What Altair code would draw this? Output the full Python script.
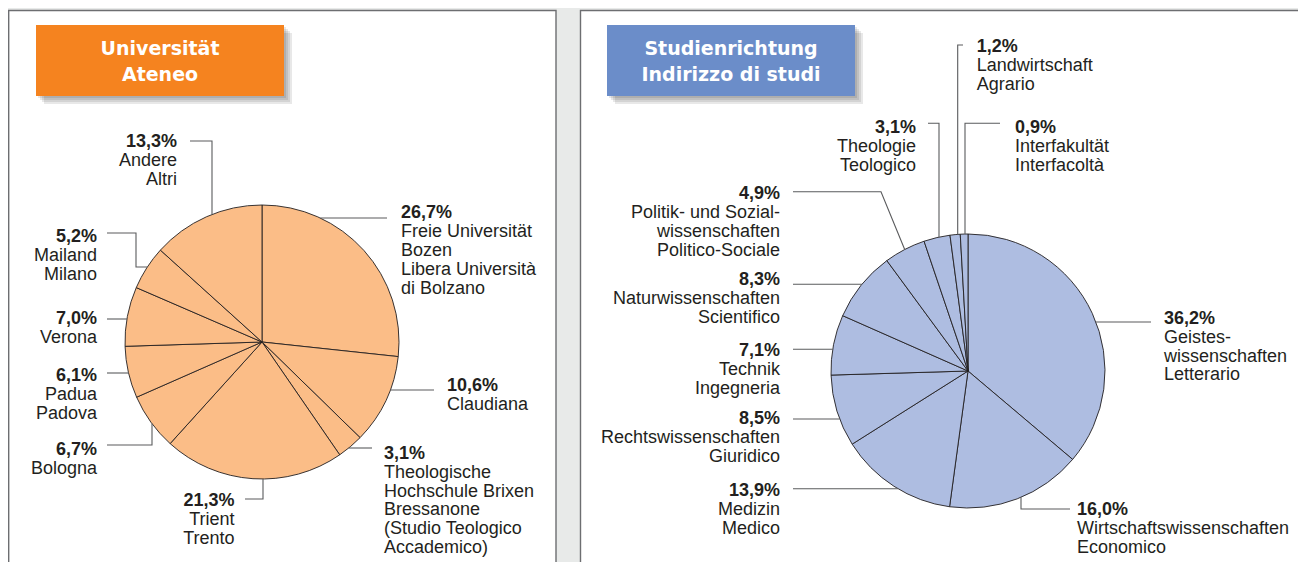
import math
import altair as alt
import pandas as pd

# ------------------------------------------------------------------ data
uni_values = [26.7, 10.6, 3.1, 21.3, 6.7, 6.1, 7.0, 5.2, 13.3]
uni_names = [
    ["Freie Universität", "Bozen", "Libera Università", "di Bolzano"],
    ["Claudiana"],
    ["Theologische", "Hochschule Brixen", "Bressanone", "(Studio Teologico", "Accademico)"],
    ["Trient", "Trento"],
    ["Bologna"],
    ["Padua", "Padova"],
    ["Verona"],
    ["Mailand", "Milano"],
    ["Andere", "Altri"],
]
study_values = [36.2, 16.0, 13.9, 8.5, 7.1, 8.3, 4.9, 3.1, 1.2, 0.9]
study_names = [
    ["Geistes-", "wissenschaften", "Letterario"],
    ["Wirtschaftswissenschaften", "Economico"],
    ["Medizin", "Medico"],
    ["Rechtswissenschaften", "Giuridico"],
    ["Technik", "Ingegneria"],
    ["Naturwissenschaften", "Scientifico"],
    ["Politik- und Sozial-", "wissenschaften", "Politico-Sociale"],
    ["Theologie", "Teologico"],
    ["Landwirtschaft", "Agrario"],
    ["Interfakultät", "Interfacoltà"],
]
panel_titles = [["Universität", "Ateneo"], ["Studienrichtung", "Indirizzo di studi"]]

# ------------------------------------------------------------------ layout / style
W, H = 1290, 554          # drawing area (page coords 8..1298 x 8..562)
OX, OY = 8, 8
R = 137
BG = "#E8EAE9"
INK = "#231F20"
LEADER = "#5A5B5D"
FONT = "Liberation Sans"
TFONT = "DejaVu Sans"
FS = 18
PITCH = 18.8
BASE = 6.4                # cap-centre -> baseline offset

panels = [dict(x=8.7, x2=556, y=10.5, y2=640), dict(x=580.5, x2=1306, y=10.5, y2=640)]
title_boxes = [dict(x=36, x2=284, y=25, y2=96, fill="#F5831F"),
               dict(x=607, x2=855, y=25, y2=96, fill="#6B8DC9")]
title_line_y = [48.5, 74.5]

# label layout per slice: text x, align, centre y of the % line, leader spec
uni_layout = [
    (401, "left", 212, ("h", 387, 218)),
    (447, "left", 385, ("h", 434, 390)),
    (384, "left", 452.5, ("h", 372, 448)),
    (234.5, "right", 500, ("hv", 245, 499, 263)),
    (97, "right", 448.7, ("hv", 107, 445, 152)),
    (97, "right", 375, ("h", 107, 373)),
    (97, "right", 318, ("h", 107, 319)),
    (97, "right", 235.5, ("hvh", 107, 233, 136, 267)),
    (177, "right", 141, ("hv", 190, 141, 212)),
]
study_layout = [
    (1164, "left", 317.5, ("h", 1151, 322)),
    (1077, "left", 509, ("hv", 1070, 509, 1021)),
    (780, "right", 489.7, ("h", 793, 488.7)),
    (780, "right", 418, ("h", 793, 419)),
    (780, "right", 349.7, ("h", 793, 349.3)),
    (780, "right", 279, ("h", 793, 284.3)),
    (780, "right", 193, ("diag", 793, 191.7, 881)),
    (916, "right", 126.7, ("hv", 928, 123.3, 939)),
    (976.7, "left", 46, ("hv", 963, 45, 957.7)),
    (1015, "left", 126.7, ("hv", 1000, 123.3, 965)),
]

pies = [
    dict(values=uni_values, names=uni_names, layout=uni_layout, cx=262, cy=342, fill="#FBBD87"),
    dict(values=study_values, names=study_names, layout=study_layout, cx=968, cy=371, fill="#AEBDE1"),
]

xs = alt.Scale(domain=[OX, OX + W], nice=False, zero=False)
ys = alt.Scale(domain=[OY, OY + H], nice=False, zero=False, reverse=True)


def X(f):
    return alt.X(f, scale=xs, axis=None)


def Y(f):
    return alt.Y(f, scale=ys, axis=None)


def pct(v):
    return f"{v:.1f}".replace(".", ",") + "%"


def leader_points(p, idx, spec):
    cx, cy = p["cx"], p["cy"]
    kind = spec[0]

    def cxs(y, x0):
        d = math.sqrt(max(R * R - (y - cy) ** 2, 0))
        return cx - d if x0 < cx else cx + d

    def cys(x, y0):
        d = math.sqrt(max(R * R - (x - cx) ** 2, 0))
        return cy - d if y0 < cy else cy + d

    if kind == "h":
        _, x0, y0 = spec
        return [(x0, y0), (cxs(y0, x0), y0)]
    if kind == "hv":
        _, x0, y0, xe = spec
        return [(x0, y0), (xe, y0), (xe, cys(xe, y0))]
    if kind == "hvh":
        _, x0, y0, xe, y2 = spec
        return [(x0, y0), (xe, y0), (xe, y2), (cxs(y2, x0), y2)]
    # diag: to the slice's mid angle on the rim
    _, x0, y0, xe = spec
    vals = p["values"]
    tot = sum(vals)
    mid = (sum(vals[:idx]) + vals[idx] / 2) / tot * 2 * math.pi
    return [(x0, y0), (xe, y0), (cx + R * math.sin(mid), cy - R * math.cos(mid))]


layers = []

# panels
layers.append(
    alt.Chart(pd.DataFrame(panels)).mark_rect(fill="white", stroke="#6D6E71", strokeWidth=1.4)
    .encode(x=X("x:Q"), x2="x2:Q", y=Y("y:Q"), y2="y2:Q")
)
# soft shadows of title boxes
shadow_rows = []
for b in title_boxes:
    for d in (2, 4, 6, 8):
        shadow_rows.append(dict(x=b["x"] + d, x2=b["x2"] + d, y=b["y"] + d, y2=b["y2"] + d))
layers.append(
    alt.Chart(pd.DataFrame(shadow_rows)).mark_rect(fill="#000000", opacity=0.09)
    .encode(x=X("x:Q"), x2="x2:Q", y=Y("y:Q"), y2="y2:Q")
)
layers.append(
    alt.Chart(pd.DataFrame(title_boxes)).mark_rect()
    .encode(x=X("x:Q"), x2="x2:Q", y=Y("y:Q"), y2="y2:Q", color=alt.Color("fill:N", scale=None))
)
trows = []
for b, lines in zip(title_boxes, panel_titles):
    for ly, t in zip(title_line_y, lines):
        trows.append(dict(tx=(b["x"] + b["x2"]) / 2, ty=ly + 0.3645 * 19, label=t))
layers.append(
    alt.Chart(pd.DataFrame(trows)).mark_text(align="center", baseline="alphabetic", font=TFONT,
                                             fontSize=19, fontWeight="bold", color="white")
    .encode(x=X("tx:Q"), y=Y("ty:Q"), text="label:N")
)

# pies
for p in pies:
    df = pd.DataFrame({"value": p["values"], "ord": list(range(len(p["values"])))})
    layers.append(
        alt.Chart(df).mark_arc(radius=R, fill=p["fill"], stroke=INK, strokeWidth=0.9)
        .encode(theta=alt.Theta("value:Q", stack=True), order=alt.Order("ord:Q"),
                x=alt.value(p["cx"] - OX), y=alt.value(p["cy"] - OY))
    )

# leaders
lrows = []
for pi, p in enumerate(pies):
    for i, (_, _, _, spec) in enumerate(p["layout"]):
        for k, (lx, ly) in enumerate(leader_points(p, i, spec)):
            lrows.append(dict(lid=f"{pi}-{i}", k=k, lx=lx, ly=ly))
layers.append(
    alt.Chart(pd.DataFrame(lrows)).mark_line(color=LEADER, strokeWidth=1.1)
    .encode(x=X("lx:Q"), y=Y("ly:Q"), detail="lid:N", order=alt.Order("k:Q"))
)

# labels
groups = {("left", "bold"): [], ("right", "bold"): [], ("left", "normal"): [], ("right", "normal"): []}
for p in pies:
    for v, names, (tx, align, cyc, _) in zip(p["values"], p["names"], p["layout"]):
        base = cyc + BASE
        groups[(align, "bold")].append(dict(tx=tx, ty=base, label=pct(v)))
        for j, n in enumerate(names):
            groups[(align, "normal")].append(dict(tx=tx, ty=base + PITCH * (j + 1), label=n))
for (align, weight), rows in groups.items():
    layers.append(
        alt.Chart(pd.DataFrame(rows)).mark_text(align=align, baseline="alphabetic", font=FONT,
                                                fontSize=FS, fontWeight=weight, color=INK)
        .encode(x=X("tx:Q"), y=Y("ty:Q"), text="label:N")
    )

chart = (
    alt.layer(*layers)
    .properties(width=W, height=H, padding=0, background=BG,
                autosize=alt.AutoSizeParams(type="none"))
    .resolve_scale(theta="independent")
    .configure_view(stroke=None)
)

chart.save("out.html", embed_options={"renderer": "svg", "actions": False})
